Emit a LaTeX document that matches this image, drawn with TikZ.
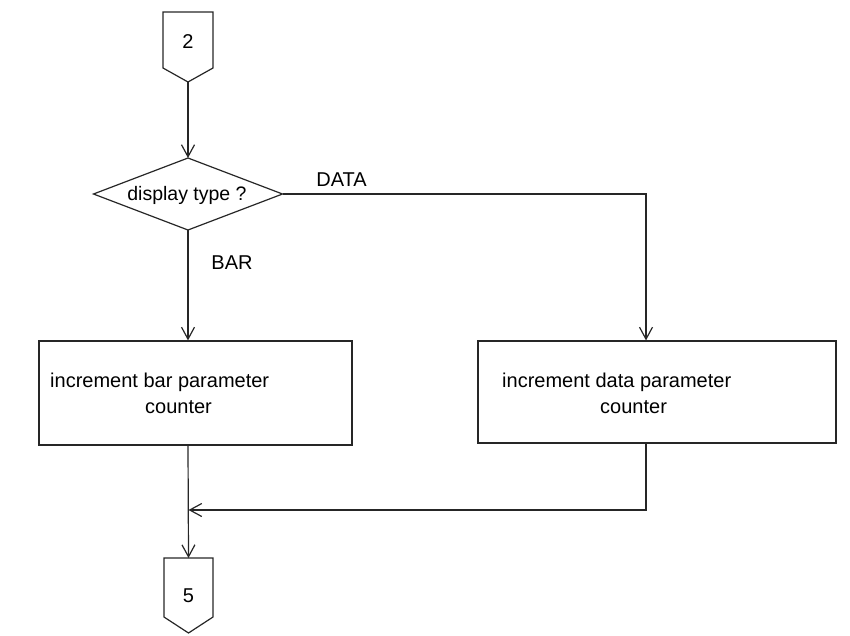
\documentclass[tikz,border=0pt]{standalone}
\usepackage{fontspec}
\setmainfont{Liberation Sans}
\usetikzlibrary{arrows.meta}
\begin{document}
\begin{tikzpicture}[x=1pt,y=-1pt,
  line/.style={line width=1.2pt,draw=black!85},
  arr/.style={line,-{Straight Barb[length=12pt,width=13pt,line width=1.2pt]}},
  box/.style={line,rectangle,inner sep=0pt},
  txt/.style={font=\fontsize{20}{24}\selectfont,inner sep=0pt,anchor=base west},
  lbl/.style={font=\fontsize{20}{24}\selectfont,inner sep=0pt,anchor=center}]
\useasboundingbox (0,0) rectangle (850,635);

% top off-page connector
\draw[line] (163,12) -- (213,12) -- (213,68) -- (188,82) coordinate (c2b) -- (163,68) -- cycle;
\node[lbl] (c2) at (188,42) {2};

% decision
\draw[line] (93.5,194) coordinate (diaW) -- (188,158) coordinate (diaN)
  -- (282.5,194) coordinate (diaE) -- (188,230) coordinate (diaS) -- cycle;
\node[lbl,font=\fontsize{19.5}{24}\selectfont] (dia) at (187,195) {display type ?};

% process boxes
\node[box,minimum width=313pt,minimum height=104pt] (bbar) at (195.5,393) {};
\node[box,minimum width=358pt,minimum height=102pt] (bdata) at (657,392) {};
\node[txt] (t1) at (50,387) {increment bar parameter};
\node[txt] (t2) at (145,413) {counter};
\node[txt] (t3) at (502,387) {increment data parameter};
\node[txt] (t4) at (600,413) {counter};

% labels
\node[lbl] (lbar) at (232,263) {BAR};
\node[lbl] (ldata) at (341.5,180) {DATA};

% bottom off-page connector
\draw[line] (164,558) -- (213,558) coordinate[pos=0.5] (c5t) -- (213,617) -- (188.5,633) -- (164,617) -- cycle;
\node[lbl] (c5) at (188.5,596) {5};

\coordinate (rx) at (646,0);
\coordinate (mj) at (188.5,510);

% connectors
\draw[arr] (c2b) -- (diaN);
\draw[arr] (diaS) -- (diaS |- bbar.north);
\draw[arr] (diaE) -| (rx |- bdata.north);
\draw[arr] (diaS |- bbar.south) -- (c5t);
\draw[arr] (rx |- bdata.south) -- (rx |- mj) -- (mj);
\end{tikzpicture}
\end{document}
